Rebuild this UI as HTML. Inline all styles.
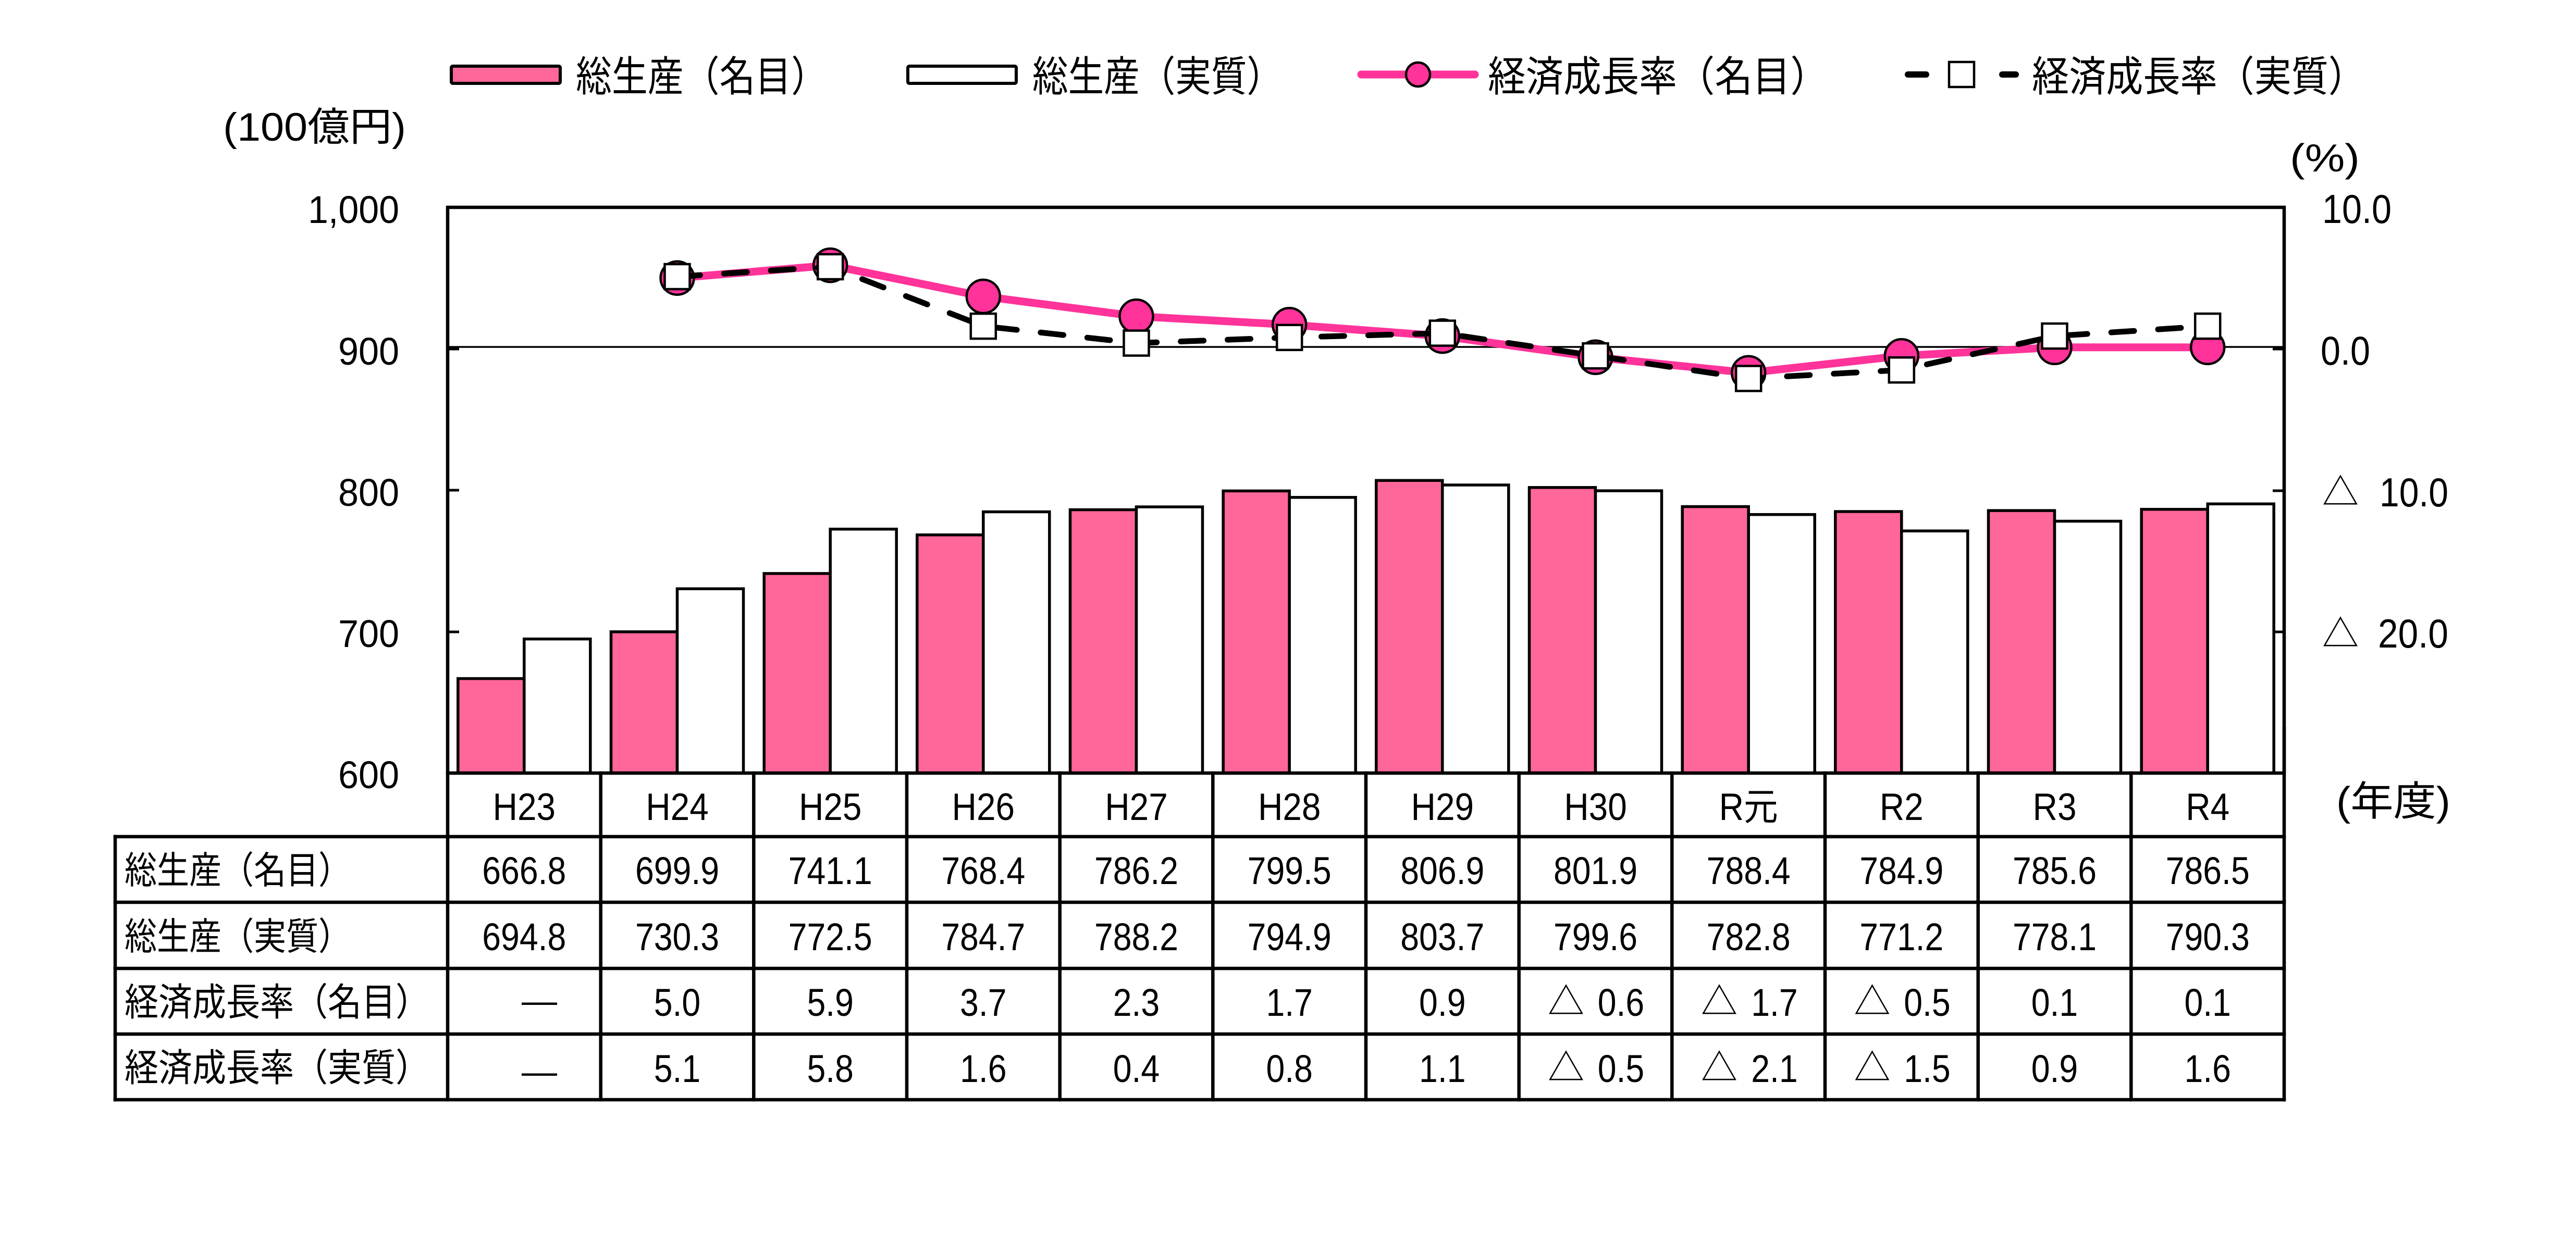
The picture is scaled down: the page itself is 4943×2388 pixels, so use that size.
<!DOCTYPE html>
<html>
<head>
<meta charset="utf-8">
<style>
html,body{margin:0;padding:0;background:#fff;}
svg{display:block;}
text{fill:#000;}
.j{font-family:"Liberation Sans","Noto Sans CJK JP",sans-serif;}
.n{font-family:"Liberation Sans","Noto Sans CJK JP",sans-serif;font-size:74px;transform-box:fill-box;transform-origin:center;transform:scaleX(0.87);}
.c{font-family:"Liberation Sans","Noto Sans CJK JP",sans-serif;font-size:73px;transform-box:fill-box;transform-origin:center;transform:scaleX(0.9);}
.t{font-family:"Noto Sans CJK JP",sans-serif;font-size:70px;}
</style>
</head>
<body>
<svg width="4943" height="2388" viewBox="0 0 4943 2388" xmlns="http://www.w3.org/2000/svg">
<rect x="0" y="0" width="4943" height="2388" fill="#fff"/>

<!-- Legend -->
<rect x="866" y="127" width="209" height="33" rx="3" fill="#FF6699" stroke="#000" stroke-width="6"/>
<text class="j" x="1105" y="175" font-size="80" textLength="482" lengthAdjust="spacingAndGlyphs">総生産（名目）</text>
<rect x="1742" y="127" width="208" height="33" rx="3" fill="#fff" stroke="#000" stroke-width="6"/>
<text class="j" x="1981" y="175" font-size="80" textLength="480" lengthAdjust="spacingAndGlyphs">総生産（実質）</text>
<line x1="2612" y1="143" x2="2830" y2="143" stroke="#FF3399" stroke-width="15" stroke-linecap="round"/>
<circle cx="2721" cy="143" r="23" fill="#FF3399" stroke="#000" stroke-width="4.5"/>
<text class="j" x="2855" y="175" font-size="80" textLength="653" lengthAdjust="spacingAndGlyphs">経済成長率（名目）</text>
<line x1="3661" y1="143" x2="3696" y2="143" stroke="#000" stroke-width="12" stroke-linecap="round"/>
<rect x="3740" y="119" width="48" height="48" fill="#fff" stroke="#000" stroke-width="4.5"/>
<line x1="3842" y1="143" x2="3868" y2="143" stroke="#000" stroke-width="12" stroke-linecap="round"/>
<text class="j" x="3899" y="175" font-size="80" textLength="640" lengthAdjust="spacingAndGlyphs">経済成長率（実質）</text>

<!-- Axis titles -->
<text class="j" x="428" y="270" font-size="76" textLength="351" lengthAdjust="spacingAndGlyphs">(100億円)</text>
<text class="j" x="4394" y="329" font-size="75" textLength="134" lengthAdjust="spacingAndGlyphs">(%)</text>
<text class="j" x="4483" y="1565" font-size="78" textLength="219" lengthAdjust="spacingAndGlyphs">(年度)</text>

<!-- Left axis labels -->
<text class="j" x="591" y="428" font-size="74" textLength="175" lengthAdjust="spacingAndGlyphs">1,000</text>
<text class="j" x="649" y="700" font-size="74" textLength="117" lengthAdjust="spacingAndGlyphs">900</text>
<text class="j" x="649" y="971" font-size="74" textLength="117" lengthAdjust="spacingAndGlyphs">800</text>
<text class="j" x="649" y="1242" font-size="74" textLength="117" lengthAdjust="spacingAndGlyphs">700</text>
<text class="j" x="649" y="1513" font-size="74" textLength="117" lengthAdjust="spacingAndGlyphs">600</text>

<!-- Right axis labels -->
<text class="j" x="4456" y="428" font-size="78" textLength="133" lengthAdjust="spacingAndGlyphs">10.0</text>
<text class="j" x="4453" y="700" font-size="78" textLength="95" lengthAdjust="spacingAndGlyphs">0.0</text>
<text class="t" x="4491" y="969" font-size="78" text-anchor="middle">△</text>
<text class="j" x="4566" y="972" font-size="78" textLength="132" lengthAdjust="spacingAndGlyphs">10.0</text>
<text class="t" x="4491" y="1241" font-size="78" text-anchor="middle">△</text>
<text class="j" x="4563" y="1243" font-size="78" textLength="135" lengthAdjust="spacingAndGlyphs">20.0</text>

<!-- Bars -->
<g stroke="#000" stroke-width="5.5">
<rect x="878.8" y="1302.6" width="127" height="181.4" fill="#FF6699"/>
<rect x="1005.8" y="1226.6" width="127" height="257.4" fill="#fff"/>
<rect x="1172.5" y="1212.8" width="127" height="271.2" fill="#FF6699"/>
<rect x="1299.5" y="1130.2" width="127" height="353.8" fill="#fff"/>
<rect x="1466.2" y="1100.9" width="127" height="383.1" fill="#FF6699"/>
<rect x="1593.2" y="1015.7" width="127" height="468.3" fill="#fff"/>
<rect x="1759.8" y="1026.8" width="127" height="457.2" fill="#FF6699"/>
<rect x="1886.8" y="982.5" width="127" height="501.5" fill="#fff"/>
<rect x="2053.5" y="978.5" width="127" height="505.5" fill="#FF6699"/>
<rect x="2180.5" y="973.0" width="127" height="511.0" fill="#fff"/>
<rect x="2347.2" y="942.4" width="127" height="541.6" fill="#FF6699"/>
<rect x="2474.2" y="954.8" width="127" height="529.2" fill="#fff"/>
<rect x="2640.8" y="922.3" width="127" height="561.7" fill="#FF6699"/>
<rect x="2767.8" y="931.0" width="127" height="553.0" fill="#fff"/>
<rect x="2934.5" y="935.8" width="127" height="548.2" fill="#FF6699"/>
<rect x="3061.5" y="942.1" width="127" height="541.9" fill="#fff"/>
<rect x="3228.2" y="972.5" width="127" height="511.5" fill="#FF6699"/>
<rect x="3355.2" y="987.7" width="127" height="496.3" fill="#fff"/>
<rect x="3521.8" y="982.0" width="127" height="502.0" fill="#FF6699"/>
<rect x="3648.8" y="1019.2" width="127" height="464.8" fill="#fff"/>
<rect x="3815.5" y="980.1" width="127" height="503.9" fill="#FF6699"/>
<rect x="3942.5" y="1000.5" width="127" height="483.5" fill="#fff"/>
<rect x="4109.2" y="977.7" width="127" height="506.3" fill="#FF6699"/>
<rect x="4236.2" y="967.3" width="127" height="516.7" fill="#fff"/>
</g>

<!-- Zero line -->
<line x1="862" y1="666" x2="4380" y2="666" stroke="#000" stroke-width="3.5"/>

<!-- Frame & ticks -->
<rect x="859" y="398" width="3524" height="1086" fill="none" stroke="#000" stroke-width="6.5"/>
<g stroke="#000" stroke-width="5">
<line x1="859" y1="670" x2="881" y2="670"/>
<line x1="859" y1="941" x2="881" y2="941"/>
<line x1="859" y1="1213" x2="881" y2="1213"/>
<line x1="4361" y1="670" x2="4383" y2="670"/>
<line x1="4361" y1="942" x2="4383" y2="942"/>
<line x1="4361" y1="1213" x2="4383" y2="1213"/>
</g>

<!-- Nominal growth line -->
<polyline fill="none" stroke="#FF3399" stroke-width="15" stroke-linejoin="round" stroke-linecap="round"
points="1299.5,533.7 1593.2,509.3 1886.8,569.0 2180.5,607.1 2474.2,623.3 2767.8,645.1 3061.5,685.8 3355.2,715.7 3648.8,683.1 3942.5,666.8 4236.2,666.8"/>
<g fill="#FF3399" stroke="#000" stroke-width="4.5">
<circle cx="1299.5" cy="533.7" r="32"/>
<circle cx="1593.2" cy="509.3" r="32"/>
<circle cx="1886.8" cy="569.0" r="32"/>
<circle cx="2180.5" cy="607.1" r="32"/>
<circle cx="2474.2" cy="623.3" r="32"/>
<circle cx="2767.8" cy="645.1" r="32"/>
<circle cx="3061.5" cy="685.8" r="32"/>
<circle cx="3355.2" cy="715.7" r="32"/>
<circle cx="3648.8" cy="683.1" r="32"/>
<circle cx="3942.5" cy="666.8" r="32"/>
<circle cx="4236.2" cy="666.8" r="32"/>
</g>

<!-- Real growth line -->
<polyline fill="none" stroke="#000" stroke-width="11" stroke-linejoin="round" stroke-linecap="round" stroke-dasharray="44 46"
points="1299.5,531.0 1593.2,512.0 1886.8,626.1 2180.5,658.6 2474.2,647.8 2767.8,639.6 3061.5,683.1 3355.2,726.5 3648.8,710.2 3942.5,645.1 4236.2,626.1"/>
<g fill="#fff" stroke="#000" stroke-width="4.5">
<rect x="1275.5" y="507.0" width="48" height="48"/>
<rect x="1569.2" y="488.0" width="48" height="48"/>
<rect x="1862.8" y="602.1" width="48" height="48"/>
<rect x="2156.5" y="634.6" width="48" height="48"/>
<rect x="2450.2" y="623.8" width="48" height="48"/>
<rect x="2743.8" y="615.6" width="48" height="48"/>
<rect x="3037.5" y="659.1" width="48" height="48"/>
<rect x="3331.2" y="702.5" width="48" height="48"/>
<rect x="3624.8" y="686.2" width="48" height="48"/>
<rect x="3918.5" y="621.1" width="48" height="48"/>
<rect x="4212.2" y="602.1" width="48" height="48"/>
</g>

<!-- Table grid -->
<g stroke="#000" stroke-width="6.5" stroke-linecap="square">
<line x1="859" y1="1606" x2="4383" y2="1606"/>
<line x1="221" y1="1606" x2="859" y2="1606"/>
<line x1="221" y1="1732" x2="4383" y2="1732"/>
<line x1="221" y1="1859" x2="4383" y2="1859"/>
<line x1="221" y1="1985" x2="4383" y2="1985"/>
<line x1="221" y1="2111" x2="4383" y2="2111"/>
<line x1="221" y1="1606" x2="221" y2="2111"/>
<line x1="859" y1="1484" x2="859" y2="2111"/>
<line x1="1152.7" y1="1484" x2="1152.7" y2="2111"/>
<line x1="1446.3" y1="1484" x2="1446.3" y2="2111"/>
<line x1="1740" y1="1484" x2="1740" y2="2111"/>
<line x1="2033.7" y1="1484" x2="2033.7" y2="2111"/>
<line x1="2327.3" y1="1484" x2="2327.3" y2="2111"/>
<line x1="2621" y1="1484" x2="2621" y2="2111"/>
<line x1="2914.7" y1="1484" x2="2914.7" y2="2111"/>
<line x1="3208.3" y1="1484" x2="3208.3" y2="2111"/>
<line x1="3502" y1="1484" x2="3502" y2="2111"/>
<line x1="3795.7" y1="1484" x2="3795.7" y2="2111"/>
<line x1="4089.3" y1="1484" x2="4089.3" y2="2111"/>
<line x1="4383" y1="1398" x2="4383" y2="2111"/>
</g>

<!-- Row labels -->
<text class="j" x="239" y="1696" font-size="72" textLength="434" lengthAdjust="spacingAndGlyphs">総生産（名目）</text>
<text class="j" x="239" y="1823" font-size="72" textLength="434" lengthAdjust="spacingAndGlyphs">総生産（実質）</text>
<text class="j" x="239" y="1949" font-size="73" textLength="585" lengthAdjust="spacingAndGlyphs">経済成長率（名目）</text>
<text class="j" x="239" y="2075" font-size="73" textLength="585" lengthAdjust="spacingAndGlyphs">経済成長率（実質）</text>

<!-- Category labels -->
<g text-anchor="middle">
<text class="c" x="1005.8" y="1574">H23</text>
<text class="c" x="1299.5" y="1574">H24</text>
<text class="c" x="1593.2" y="1574">H25</text>
<text class="c" x="1886.8" y="1574">H26</text>
<text class="c" x="2180.5" y="1574">H27</text>
<text class="c" x="2474.2" y="1574">H28</text>
<text class="c" x="2767.8" y="1574">H29</text>
<text class="c" x="3061.5" y="1574">H30</text>
<text class="c" x="3355.2" y="1574">R元</text>
<text class="c" x="3648.8" y="1574">R2</text>
<text class="c" x="3942.5" y="1574">R3</text>
<text class="c" x="4236.2" y="1574">R4</text>

<!-- Row 1 -->
<text class="n" x="1005.8" y="1697">666.8</text>
<text class="n" x="1299.5" y="1697">699.9</text>
<text class="n" x="1593.2" y="1697">741.1</text>
<text class="n" x="1886.8" y="1697">768.4</text>
<text class="n" x="2180.5" y="1697">786.2</text>
<text class="n" x="2474.2" y="1697">799.5</text>
<text class="n" x="2767.8" y="1697">806.9</text>
<text class="n" x="3061.5" y="1697">801.9</text>
<text class="n" x="3355.2" y="1697">788.4</text>
<text class="n" x="3648.8" y="1697">784.9</text>
<text class="n" x="3942.5" y="1697">785.6</text>
<text class="n" x="4236.2" y="1697">786.5</text>

<!-- Row 2 -->
<text class="n" x="1005.8" y="1824">694.8</text>
<text class="n" x="1299.5" y="1824">730.3</text>
<text class="n" x="1593.2" y="1824">772.5</text>
<text class="n" x="1886.8" y="1824">784.7</text>
<text class="n" x="2180.5" y="1824">788.2</text>
<text class="n" x="2474.2" y="1824">794.9</text>
<text class="n" x="2767.8" y="1824">803.7</text>
<text class="n" x="3061.5" y="1824">799.6</text>
<text class="n" x="3355.2" y="1824">782.8</text>
<text class="n" x="3648.8" y="1824">771.2</text>
<text class="n" x="3942.5" y="1824">778.1</text>
<text class="n" x="4236.2" y="1824">790.3</text>

<!-- Row 3 -->
<text class="j" x="1035" y="1944" font-size="68">—</text>
<text class="n" x="1299.5" y="1950">5.0</text>
<text class="n" x="1593.2" y="1950">5.9</text>
<text class="n" x="1886.8" y="1950">3.7</text>
<text class="n" x="2180.5" y="1950">2.3</text>
<text class="n" x="2474.2" y="1950">1.7</text>
<text class="n" x="2767.8" y="1950">0.9</text>
<text class="t" x="3005" y="1947">△</text>
<text class="n" x="3110.5" y="1950">0.6</text>
<text class="t" x="3299" y="1947">△</text>
<text class="n" x="3405" y="1950">1.7</text>
<text class="t" x="3592.5" y="1947">△</text>
<text class="n" x="3698" y="1950">0.5</text>
<text class="n" x="3942.5" y="1950">0.1</text>
<text class="n" x="4236.2" y="1950">0.1</text>

<!-- Row 4 -->
<text class="j" x="1035" y="2080" font-size="68">—</text>
<text class="n" x="1299.5" y="2077">5.1</text>
<text class="n" x="1593.2" y="2077">5.8</text>
<text class="n" x="1886.8" y="2077">1.6</text>
<text class="n" x="2180.5" y="2077">0.4</text>
<text class="n" x="2474.2" y="2077">0.8</text>
<text class="n" x="2767.8" y="2077">1.1</text>
<text class="t" x="3005" y="2074">△</text>
<text class="n" x="3110.5" y="2077">0.5</text>
<text class="t" x="3299" y="2074">△</text>
<text class="n" x="3405" y="2077">2.1</text>
<text class="t" x="3592.5" y="2074">△</text>
<text class="n" x="3698" y="2077">1.5</text>
<text class="n" x="3942.5" y="2077">0.9</text>
<text class="n" x="4236.2" y="2077">1.6</text>
</g>
</svg>
</body>
</html>
